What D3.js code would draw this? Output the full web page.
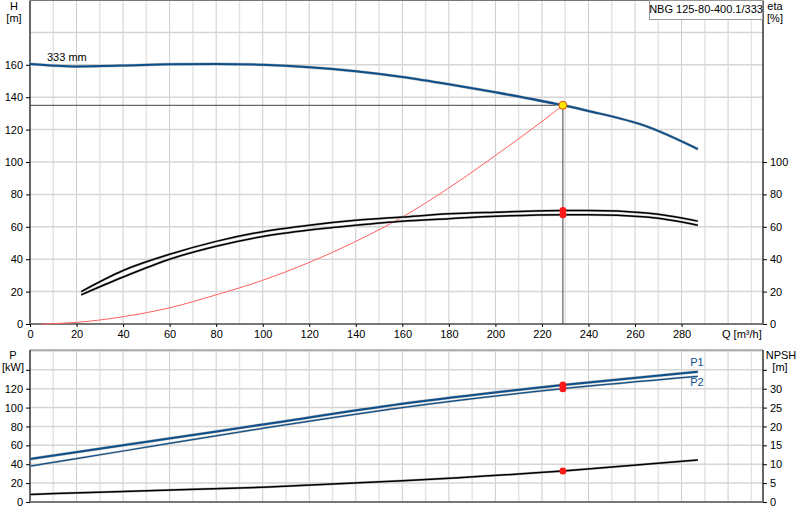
<!DOCTYPE html>
<html><head><meta charset="utf-8">
<script src="https://cdn.jsdelivr.net/npm/d3@7"></script>
<style>body{margin:0;background:#fff}svg{font-family:Arial,"Liberation Sans",sans-serif;font-size:11px}</style>
</head><body><svg width="800" height="520"></svg>
<script>
// Q [m3/h] data
const headQ = [0, 20, 40, 60, 80, 100, 120, 140, 160, 180, 200, 229, 240, 265, 287];
const headH = [160.5, 159, 159.5, 160.3, 160.5, 160, 158.5, 156, 152.5, 148, 143, 135, 131.5, 122, 108];
const sysQ = [5, 20, 40, 60, 80, 100, 120, 140, 160, 180, 200, 220, 229];
const sysH = [0, 1, 4.5, 10, 18, 27, 38, 51, 66, 84, 104, 125, 135];
const etaQ = [22, 40, 60, 80, 100, 120, 140, 160, 180, 200, 229, 240, 265, 287];
const eta1 = [20, 33, 43, 51, 57, 61, 64, 66, 68, 69, 70, 70, 68.5, 63.5];
const eta2 = [18, 29, 40, 48, 54, 58, 61, 63.5, 65, 66.5, 67.5, 67.5, 66, 61];
const powQ = [0, 40, 100, 160, 229, 287];
const p1 = [45.6, 60, 82, 104, 124, 138];
const p2 = [38, 54, 78, 100, 120, 133];
const npshQ = [0, 40, 100, 160, 229, 287];
const npsh = [2.0, 2.8, 3.9, 5.6, 8.2, 11.1];
const duty = { q: 229, h: 135, eta1: 70, eta2: 67.5, p1: 124, p2: 120, npsh: 8.2 };
const qTicks = d3.range(0, 281, 20);
const hTicks = d3.range(0, 161, 20);
const etaTicks = d3.range(0, 101, 20);
const pTicks = d3.range(0, 121, 20);
const npshTicks = d3.range(0, 31, 5);

const svg = d3.select('svg');
const L = 30, R = 763;
const x = d3.scaleLinear().domain([0, 315]).range([L, R]);
const yH = d3.scaleLinear().domain([0, 200]).range([324, 0]);
const yEta = d3.scaleLinear().domain([0, 200]).range([324, 0]);
const yP = d3.scaleLinear().domain([0, 161]).range([502, 350]);
const yN = d3.scaleLinear().domain([0, 40.25]).range([502, 350]);

function grid(y0, y1, yScale, yStep, yMax) {
    const g = svg.append('g');
    d3.range(10, 315, 10).forEach(q => g.append('line')
        .attr('x1', x(q)).attr('x2', x(q)).attr('y1', y0).attr('y2', y1)
        .attr('stroke', q % 20 ? '#e4e4e4' : '#cccccc').attr('stroke-width', q % 20 ? 1.5 : 1));
    d3.range(yStep, yMax, yStep).forEach(v => g.append('line')
        .attr('x1', L).attr('x2', R).attr('y1', yScale(v)).attr('y2', yScale(v))
        .attr('stroke', '#d6d6d6').attr('stroke-width', 1.5));
}
grid(0, 324, yH, 20, 200);
grid(350, 502, yP, 20, 161);

const line = (xs, ys, yScale) => d3.line().curve(d3.curveMonotoneX)
    .x((d, i) => x(xs[i])).y(d => yScale(d))(ys);
function curve(xs, ys, yScale, color, w, halo) {
    if (halo) svg.append('path').attr('d', line(xs, ys, yScale)).attr('fill', 'none')
        .attr('stroke', '#bbb').attr('stroke-width', w + 1);
    svg.append('path').attr('d', line(xs, ys, yScale)).attr('fill', 'none')
        .attr('stroke', color).attr('stroke-width', w);
}

// frames
function frame(y0, y1) {
    svg.append('line').attr('x1', L).attr('x2', L).attr('y1', y0).attr('y2', y1).attr('stroke', '#333').attr('stroke-width', 1.5);
    svg.append('line').attr('x1', R).attr('x2', R).attr('y1', y0).attr('y2', y1).attr('stroke', '#333').attr('stroke-width', 1.5);
    svg.append('line').attr('x1', L).attr('x2', R).attr('y1', y0).attr('y2', y0).attr('stroke', '#777');
    svg.append('line').attr('x1', L).attr('x2', R).attr('y1', y1).attr('y2', y1).attr('stroke', '#777').attr('stroke-width', 2);
}
frame(0.5, 324);
frame(350, 502);

// duty lines
svg.append('line').attr('x1', L).attr('x2', x(duty.q)).attr('y1', yH(duty.h)).attr('y2', yH(duty.h)).attr('stroke', '#444');
svg.append('line').attr('x1', x(duty.q)).attr('x2', x(duty.q)).attr('y1', yH(duty.h)).attr('y2', 324).attr('stroke', '#444');

curve(sysQ, sysH, yH, '#ff6060', 1, false);
curve(headQ, headH, yH, '#0d4f8b', 2, true);
curve(etaQ, eta1, yEta, '#000', 1.5, true);
curve(etaQ, eta2, yEta, '#000', 1.5, true);
curve(powQ, p1, yP, '#0d4f8b', 2, true);
curve(powQ, p2, yP, '#0d4f8b', 1.2, true);
curve(npshQ, npsh, yN, '#000', 1.5, true);

// duty markers
[[duty.eta1, yEta], [duty.eta2, yEta], [duty.p1, yP], [duty.p2, yP], [duty.npsh, yN]].forEach(([v, s]) =>
    svg.append('circle').attr('cx', x(duty.q)).attr('cy', s(v)).attr('r', 3.5).attr('fill', '#ff1a1a'));
svg.append('circle').attr('cx', x(duty.q)).attr('cy', yH(duty.h)).attr('r', 4).attr('fill', '#ffe600').attr('stroke', '#e05000');

// axes
const tick = g => g.call(s => s.select('.domain').remove()).selectAll('text').attr('fill', '#000').style('font-size', '11px');
svg.append('g').attr('transform', `translate(${L},0)`).call(d3.axisLeft(yH).tickValues(hTicks).tickSize(4).tickFormat(d3.format('d'))).call(tick);
svg.append('g').attr('transform', `translate(${R},0)`).call(d3.axisRight(yEta).tickValues(etaTicks).tickSize(4)).call(tick);
svg.append('g').attr('transform', 'translate(0,324)').call(d3.axisBottom(x).tickValues(qTicks).tickSize(3)).call(tick);
svg.append('g').attr('transform', `translate(${L},0)`).call(d3.axisLeft(yP).tickValues(pTicks.concat([140])).tickSize(4).tickFormat(d => d === 140 ? '' : d)).call(tick);
svg.append('g').attr('transform', `translate(${R},0)`).call(d3.axisRight(yN).tickValues(npshTicks.concat([35])).tickSize(4).tickFormat(d => d === 35 ? '' : d)).call(tick);

const text = (t, px, py, anchor, color) => svg.append('text').attr('x', px).attr('y', py)
    .attr('text-anchor', anchor || 'start').attr('fill', color || '#000').text(t);
text('H', 14, 10, 'middle'); text('[m]', 14, 22, 'middle');
text('eta', 775, 10, 'middle'); text('[%]', 775, 22, 'middle');
text('P', 13, 359, 'middle'); text('[kW]', 13, 371, 'middle');
text('NPSH', 781, 359, 'middle'); text('[m]', 780, 371, 'middle');
text('Q [m³/h]', 722, 338);
text('333 mm', 47, 61);
text('P1', 697, 366, 'middle', '#0d4f8b');
text('P2', 697, 386, 'middle', '#0d4f8b');
svg.append('rect').attr('x', 649.5).attr('y', 0.5).attr('width', 113).attr('height', 19).attr('fill', '#fff').attr('stroke', '#999');
text('NBG 125-80-400.1/333', 706, 13, 'middle');
</script></body></html>
